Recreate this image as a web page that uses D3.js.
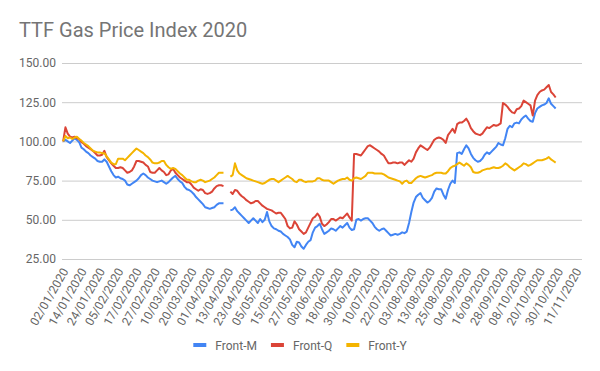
<!DOCTYPE html>
<html>
<head>
<meta charset="utf-8">
<script src="https://cdn.jsdelivr.net/npm/d3@7"></script>
<style>
    body { margin: 0; background: #fff; }
    svg { font-family: Roboto, Arial, sans-serif; display: block; }
</style>
</head>
<body>
<div id="chart"></div>
<script>
// trading days shown on the category axis (first and last category)
const firstDay = "2020-01-02";
const lastDay = "2020-11-13";

const tickLabels = ["02/01/2020", "14/01/2020", "24/01/2020", "05/02/2020", "17/02/2020",
    "27/02/2020", "10/03/2020", "20/03/2020", "01/04/2020", "13/04/2020", "23/04/2020",
    "05/05/2020", "15/05/2020", "27/05/2020", "08/06/2020", "18/06/2020", "30/06/2020",
    "10/07/2020", "22/07/2020", "03/08/2020", "13/08/2020", "25/08/2020", "04/09/2020",
    "16/09/2020", "28/09/2020", "08/10/2020", "20/10/2020", "30/10/2020", "11/11/2020"];

const yTicks = [25, 50, 75, 100, 125, 150];

// one value per trading day, null where there is no quote (Easter)
const frontM = [100, 101, 100, 99, 100.5, 102, 101, 99.5, 96, 95, 93.5, 92.5, 91, 90, 89, 87.5, 87, 87, 88.5, 87,
    84, 81, 78.5, 77, 77.5, 76.5, 76, 75, 72.5, 72, 73, 74, 75, 76.5, 78.5, 79.5, 78.5, 77, 76, 75,
    74.5, 74, 74.5, 75, 74, 73, 74, 75.5, 77, 78, 76, 74.5, 73.5, 71, 69.5, 69, 68, 66.5, 64.5, 63,
    61.5, 60, 58, 57.5, 57, 57.5, 58, 59.5, 60.5, 60.5, 60.5, null, null, 56, 56.5, 58, 55.5, 54, 52.5, 51,
    49.5, 48, 49.5, 51, 49.5, 48, 50.5, 48.5, 50, 55, 49, 46, 44.5, 44, 43, 42.5, 41, 40, 39, 37.5,
    34, 32.5, 36, 35.5, 33, 31.5, 34, 36, 37, 42, 45, 46, 47.5, 44, 41, 42, 43, 44.5, 44, 43,
    44.5, 46, 45, 46.5, 48, 45, 43.5, 44, 50, 50.5, 49.5, 50.5, 51, 51, 49.5, 48, 45.5, 44, 43, 44,
    44.5, 43, 41.5, 40, 40.5, 41, 40.5, 41, 42, 41.5, 42.5, 48, 55, 61, 64.5, 66, 67, 64, 62.5, 61,
    62, 64, 68, 70, 69.5, 69.5, 66, 63.5, 69, 73, 75, 73.5, 92.5, 93, 92, 95, 97.5, 95.5, 92, 89.5,
    88, 87, 87.5, 89, 91.5, 93, 92, 93.5, 95, 96.5, 99, 98, 97.5, 102, 108, 110, 109, 111.5, 112, 111.5,
    114, 115.5, 116.5, 114.5, 113, 112.5, 118, 121, 122, 123, 123.5, 124.5, 127.5, 124, 122.5, 121];

const frontQ = [100, 109, 105, 103, 102.5, 103, 102, 101.5, 99.5, 98.5, 97, 96, 95, 94, 92.5, 91, 91, 91.5, 94, 90,
    88, 86, 84.5, 83, 83, 83.5, 83, 81.5, 80, 80.5, 81.5, 84, 87.5, 87.5, 87, 86.5, 85, 84, 80.5, 80,
    80, 81.5, 83, 81.5, 80.5, 78.5, 79, 81.5, 82.5, 80, 78.5, 77, 76, 75, 74, 74, 72.5, 70.5, 69.5, 68.5,
    69.5, 69, 67, 66.5, 67, 68, 70, 71.5, 72, 72, 71.5, null, null, 68, 66.5, 69, 68.5, 66.5, 65, 64,
    62.5, 61.5, 60.5, 61, 62, 62, 60.5, 59, 58, 57, 56.5, 56, 55, 54, 54.5, 54.5, 52.5, 50.5, 46, 44.5,
    45, 49, 47, 44, 42.5, 41, 42, 45, 48, 51, 52, 54, 52, 47.5, 46, 47, 48.5, 50.5, 50.5, 49.5,
    50.5, 51.5, 51, 52.5, 54, 51.5, 49.5, 92, 92, 91.5, 91, 93, 95, 97, 97.5, 96.5, 95.5, 94.5, 93.5, 92,
    91, 88.5, 86, 86, 86.5, 86.5, 86, 86.5, 86.5, 85, 86.5, 88, 87, 89, 93, 95.5, 97.5, 96.5, 95.5, 94.5,
    96, 98.5, 101, 102, 102.5, 102, 101, 99, 104, 106, 108, 105.5, 111, 112, 112, 113, 114.5, 112, 108.5, 106.5,
    105, 104.5, 104, 105, 107, 109, 108.5, 109.5, 110.5, 110, 110.5, 111.5, 124.5, 123.5, 122, 120, 118.5, 118, 120.5, 121,
    122.5, 126, 125, 124, 123, 116.5, 126, 129.5, 131.5, 132.5, 133, 134.5, 136, 131.5, 130, 128];

const frontY = [100, 103.5, 102, 102.5, 101.5, 102.5, 103, 101.5, 100.5, 99, 98, 97, 95.5, 94, 93.5, 93, 93, 92.5, 92.5, 90.5,
    88.5, 86.5, 85.5, 85.5, 89, 89, 89, 88, 89.5, 91, 92.5, 94, 95.5, 94.5, 93.5, 92.5, 91, 90, 88.5, 86.5,
    86, 86, 86.5, 87.5, 87.5, 85, 83.5, 82.5, 83, 82.5, 81, 79.5, 78.5, 77, 75.5, 75.5, 74.5, 74, 74, 75,
    75.5, 75, 74, 74.5, 75, 76, 77, 78.5, 80, 80, 80, null, null, 77.5, 78.5, 86, 81.5, 79.5, 78.5, 77.5,
    76.5, 76, 75.5, 75, 74.5, 74, 73.5, 73, 73.5, 74.5, 75.5, 76, 76, 75, 74, 75, 76, 77, 78, 77,
    76, 74.5, 74, 75.5, 75.5, 74.5, 74, 74.5, 74.5, 74.5, 75, 76.5, 76.5, 75.5, 75, 75, 75, 74, 73, 74,
    75, 75.5, 76, 76, 77, 75.5, 75, 76.5, 77, 76.5, 76, 77, 78, 80, 80, 80, 79.5, 79.5, 79.5, 79.5,
    79, 78, 77, 76.5, 76, 75.5, 75, 74.5, 73, 74.5, 75, 73.5, 73.5, 75, 76.5, 77.5, 78, 77.5, 77, 77.5,
    78, 78.5, 79.5, 80, 80, 80, 79.5, 79.5, 81, 83, 84, 84.5, 85.5, 86.5, 85.5, 84.5, 86, 85, 83.5, 80.5,
    80, 80, 80.5, 81.5, 82, 82.5, 82.5, 83, 83.5, 83, 83, 83.5, 84.5, 86, 85, 83.5, 82.5, 81.5, 82.5, 83.5,
    84.5, 86, 85.5, 84.5, 85, 86, 87, 88, 88, 88, 88.5, 89, 90, 88.5, 87.5, 86.5];

const seriesNames = ["Front-M", "Front-Q", "Front-Y"];
const seriesColors = ["#4285f4", "#db4437", "#f4b400"];
const seriesValues = [frontM, frontQ, frontY];

const fmt = d3.utcFormat("%d/%m/%Y");
let categories = d3.utcDay.range(new Date(firstDay), d3.utcDay.offset(new Date(lastDay), 1))
    .filter(d => d.getUTCDay() > 0 && d.getUTCDay() < 6)
    .map(fmt);

let width = 600;
let height = 371;
let plotLeft = 62, plotRight = 582, plotTop = 63, plotBottom = 259;

let svg = d3.select("#chart")
    .append("svg")
    .attr("width", width)
    .attr("height", height);

svg.append("text")
    .attr("x", 19)
    .attr("y", 37)
    .attr("fill", "#757575")
    .style("font-size", "20px")
    .text("TTF Gas Price Index 2020");

let scaleX = d3.scaleBand()
    .domain(categories)
    .range([plotLeft, plotRight]);

let scaleY = d3.scaleLinear()
    .domain([25, 150])
    .range([plotBottom, plotTop]);

// горизонтальная сетка и подписи
let axisY = d3.axisLeft(scaleY)
    .tickValues(yTicks)
    .tickSize(-(plotRight - plotLeft))
    .tickPadding(6)
    .tickFormat(d3.format(".2f"));

let gy = svg.append("g")
    .attr("transform", `translate(${plotLeft}, 0)`)
    .call(axisY);
gy.select(".domain").remove();
gy.selectAll("line").attr("stroke", "#cccccc");
gy.selectAll("text")
    .attr("fill", "#666666")
    .style("font-size", "12px")
    .style("font-family", "Roboto, Arial, sans-serif");

// ось OX: подписи дат под углом
let axisX = d3.axisBottom(scaleX)
    .tickValues(tickLabels)
    .tickSize(0)
    .tickPadding(0);

let gx = svg.append("g")
    .attr("transform", `translate(0, ${plotBottom})`)
    .call(axisX);
gx.select(".domain").remove();
gx.selectAll("text")
    .attr("fill", "#666666")
    .style("font-size", "12px")
    .style("font-family", "Roboto, Arial, sans-serif")
    .style("text-anchor", "end")
    .attr("x", 0)
    .attr("y", 0)
    .attr("dy", "0.35em")
    .attr("transform", "translate(2, 10) rotate(-60)");

let line = d3.line()
    .defined(d => d.v !== null)
    .x(d => scaleX(d.c) + scaleX.bandwidth() / 2)
    .y(d => scaleY(d.v));

seriesValues.forEach((vals, k) => {
    let pts = vals.map((v, i) => ({c: categories[i], v: v}));
    svg.append("path")
        .datum(pts)
        .attr("fill", "none")
        .attr("stroke", seriesColors[k])
        .attr("stroke-width", 2)
        .attr("stroke-linejoin", "round")
        .attr("d", line);
});

// легенда по центру
let legend = svg.append("g");
let xPos = 0;
seriesNames.forEach((name, k) => {
    let item = legend.append("g").attr("transform", `translate(${xPos}, 0)`);
    item.append("rect")
        .attr("x", 0)
        .attr("y", 343)
        .attr("width", 13)
        .attr("height", 4)
        .attr("fill", seriesColors[k]);
    let t = item.append("text")
        .attr("x", 22)
        .attr("y", 349.5)
        .attr("fill", "#666666")
        .style("font-size", "12px")
        .text(name);
    xPos += 22 + t.node().getComputedTextLength() + 14;
});
let legendW = xPos - 14;
legend.attr("transform", `translate(${(width - legendW) / 2}, 0)`);
</script>
</body>
</html>
